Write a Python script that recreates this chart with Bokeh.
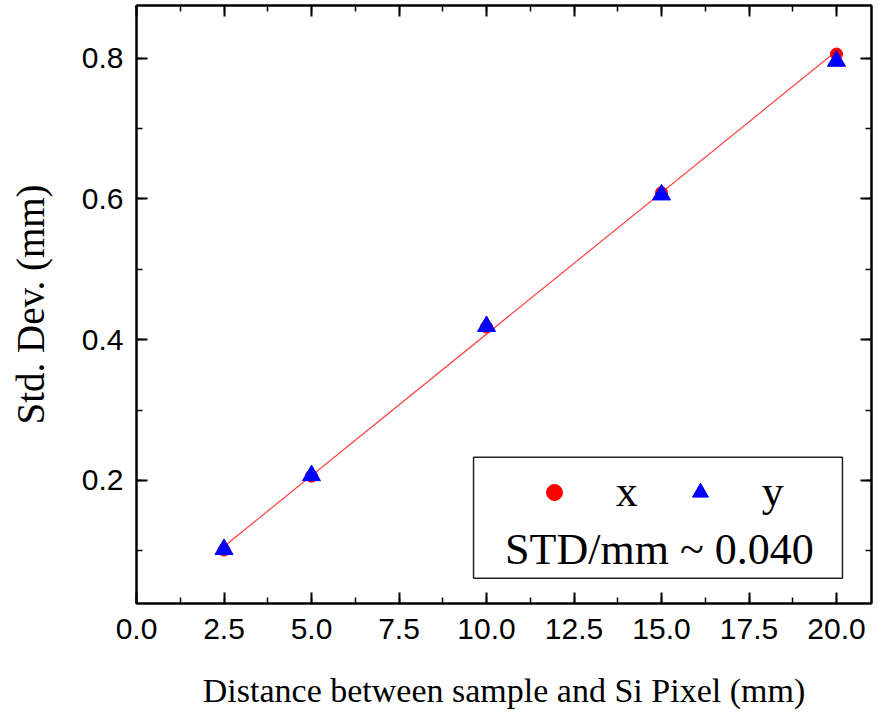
import numpy as np
from bokeh.plotting import figure
from bokeh.models import (Range1d, LinearAxis, SingleIntervalTicker, NumeralTickFormatter,
                          CustomJSTickFormatter, Legend, LegendItem, Label, BoxAnnotation)
from bokeh.embed import file_html
from bokeh.resources import INLINE

# ---- data ----
distance = [2.5, 5.0, 10.0, 15.0, 20.0]
std_x = [0.101, 0.206, 0.418, 0.609, 0.806]
std_y = [0.102, 0.207, 0.419, 0.606, 0.796]
fit_label = "STD/mm ~ 0.040"
x_title = "Distance between sample and Si Pixel (mm)"
y_title = "Std. Dev. (mm)"

# linear fit of the x series
slope, intercept = np.polyfit(distance, std_x, 1)
fit_x = [distance[0], distance[-1]]
fit_y = [slope * v + intercept for v in fit_x]

p = figure(width=879, height=715, output_backend="svg", toolbar_location=None,
           x_range=Range1d(0, 21), y_range=Range1d(0.025, 0.875),
           min_border_left=136, min_border_right=8, min_border_top=5, min_border_bottom=112,
           x_axis_type=None, y_axis_type=None)
p.grid.visible = False
p.outline_line_color = "black"
p.outline_line_width = 2
p.background_fill_color = "white"
p.border_fill_color = "white"

xt = SingleIntervalTicker(interval=2.5, num_minor_ticks=2)
yt = SingleIntervalTicker(interval=0.2, num_minor_ticks=2)
fmt = NumeralTickFormatter(format="0.0")
blank = CustomJSTickFormatter(code="return ''")

def style(ax, show_labels):
    ax.axis_line_color = "black"
    ax.axis_line_width = 2
    ax.major_tick_in = 11
    ax.major_tick_out = 0
    ax.minor_tick_in = 6
    ax.minor_tick_out = 0
    ax.major_tick_line_width = 2
    ax.minor_tick_line_width = 1.5
    ax.major_tick_line_color = "black"
    ax.minor_tick_line_color = "black"
    if show_labels:
        ax.major_label_text_font = "Liberation Sans"
        ax.major_label_text_font_size = "30px"
        ax.major_label_text_color = "black"
        ax.axis_label_text_font = "Liberation Serif"
        ax.axis_label_text_font_style = "normal"
        ax.axis_label_text_color = "black"
    else:
        ax.major_label_standoff = 0

xb = LinearAxis(ticker=xt, formatter=fmt, axis_label=x_title)
style(xb, True)
xb.axis_label_text_font_size = "34px"
xb.major_label_standoff = 15
xb.axis_label_standoff = 30
p.add_layout(xb, "below")

yl = LinearAxis(ticker=yt, formatter=fmt, axis_label=y_title)
style(yl, True)
yl.axis_label_text_font_size = "39px"
yl.major_label_standoff = 13
yl.axis_label_standoff = 27
p.add_layout(yl, "left")

xa = LinearAxis(ticker=xt, formatter=blank)
style(xa, False)
p.add_layout(xa, "above")
yr = LinearAxis(ticker=yt, formatter=blank)
style(yr, False)
p.add_layout(yr, "right")

p.line(fit_x, fit_y, line_color="red", line_width=1.2, line_alpha=0.75)
r_x = p.scatter(distance, std_x, marker="circle", size=12, fill_color="red", line_color="red")
r_y = p.scatter(distance, std_y, marker="triangle", size=18, fill_color="blue", line_color="blue")

box = BoxAnnotation(left=9.63, right=20.17, bottom=0.061, top=0.233,
                    fill_alpha=0, line_color="#222222", line_alpha=1.0, line_width=1.5,
                    level="annotation")
p.add_layout(box)

legend = Legend(items=[LegendItem(label="x", renderers=[r_x]),
                       LegendItem(label="y", renderers=[r_y])],
                orientation="horizontal", location=(397.7, 86),
                glyph_width=40, glyph_height=40, label_standoff=42, spacing=42,
                padding=0, margin=0, border_line_color=None, background_fill_alpha=0,
                label_text_font="Liberation Serif", label_text_font_size="44px",
                label_text_color="black", label_width=20, label_height=40)
p.add_layout(legend, "center")

p.add_layout(Label(x=14.94, y=0.102, text=fit_label, text_align="center",
                   text_baseline="alphabetic", text_font="Liberation Serif",
                   text_font_size="44px", text_color="black"))

open("out.html", "w").write(file_html(p, INLINE))
